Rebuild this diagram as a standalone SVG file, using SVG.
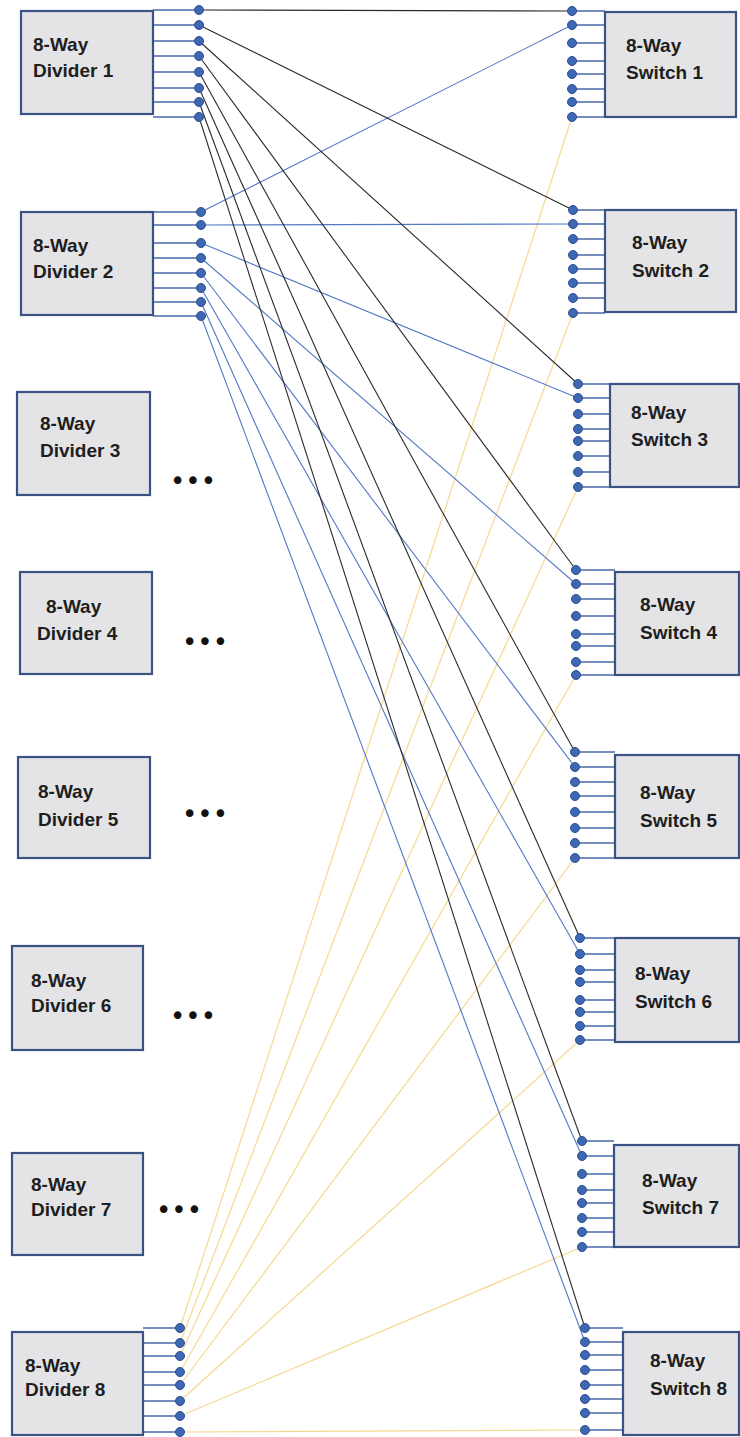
<svg xmlns="http://www.w3.org/2000/svg" width="740" height="1437" viewBox="0 0 740 1437">
<style>
.box{fill:#e4e4e6;stroke:#3b5384;stroke-width:2.2}
.lbl{font-family:"Liberation Sans",Arial,sans-serif;font-weight:bold;font-size:19px;fill:#1e1e1e}
.pin{stroke:#4a6aa8;stroke-width:1.3}
.dot{fill:#3f68b3;stroke:#2c4f94;stroke-width:1}
.k{stroke:#2a2a2a;stroke-width:1.1;fill:none}
.b{stroke:#5278c4;stroke-width:1.1;fill:none}
.y{stroke:#f4d98f;stroke-width:1.2;fill:none}
.ell{font-family:"DejaVu Sans",sans-serif;font-size:26px;fill:#111}
</style>
<rect width="740" height="1437" fill="#ffffff"/>
<g id="connectors">
<line class="y" x1="180" y1="1328" x2="572" y2="117"/>
<line class="y" x1="180" y1="1343" x2="573" y2="313"/>
<line class="y" x1="180" y1="1356" x2="578" y2="487"/>
<line class="y" x1="180" y1="1372" x2="576" y2="675"/>
<line class="y" x1="180" y1="1385" x2="575" y2="858"/>
<line class="y" x1="180" y1="1401" x2="580" y2="1040"/>
<line class="y" x1="180" y1="1416" x2="582" y2="1247"/>
<line class="y" x1="180" y1="1432" x2="585" y2="1430"/>
<line class="b" x1="201" y1="212" x2="572" y2="25"/>
<line class="b" x1="201" y1="225" x2="573" y2="224"/>
<line class="b" x1="201" y1="243" x2="578" y2="398"/>
<line class="b" x1="201" y1="258" x2="576" y2="584"/>
<line class="b" x1="201" y1="273" x2="575" y2="767"/>
<line class="b" x1="201" y1="288" x2="580" y2="954"/>
<line class="b" x1="201" y1="302" x2="582" y2="1156"/>
<line class="b" x1="201" y1="316" x2="585" y2="1342"/>
<line class="k" x1="199" y1="10" x2="572" y2="11"/>
<line class="k" x1="199" y1="25" x2="573" y2="210"/>
<line class="k" x1="199" y1="41" x2="578" y2="384"/>
<line class="k" x1="199" y1="56" x2="576" y2="570"/>
<line class="k" x1="199" y1="72" x2="575" y2="752"/>
<line class="k" x1="199" y1="88" x2="580" y2="938"/>
<line class="k" x1="199" y1="102" x2="582" y2="1141"/>
<line class="k" x1="199" y1="117" x2="585" y2="1328"/>
</g>
<g id="divider1">
<path class="pin" d="M153 10H199M153 25H199M153 41H199M153 56H199M153 72H199M153 88H199M153 102H199M153 117H199"/>
<rect class="box" x="21" y="11" width="132" height="103"/>
<text class="lbl" x="33" y="51">8-Way</text><text class="lbl" x="33" y="77">Divider 1</text>
<g class="dot"><circle cx="199" cy="10" r="4.5"/><circle cx="199" cy="25" r="4.5"/><circle cx="199" cy="41" r="4.5"/><circle cx="199" cy="56" r="4.5"/><circle cx="199" cy="72" r="4.5"/><circle cx="199" cy="88" r="4.5"/><circle cx="199" cy="102" r="4.5"/><circle cx="199" cy="117" r="4.5"/></g>
</g>
<g id="divider2">
<path class="pin" d="M153 212H201M153 225H201M153 243H201M153 258H201M153 273H201M153 288H201M153 302H201M153 316H201"/>
<rect class="box" x="21" y="212" width="132" height="103"/>
<text class="lbl" x="33" y="252">8-Way</text><text class="lbl" x="33" y="278">Divider 2</text>
<g class="dot"><circle cx="201" cy="212" r="4.5"/><circle cx="201" cy="225" r="4.5"/><circle cx="201" cy="243" r="4.5"/><circle cx="201" cy="258" r="4.5"/><circle cx="201" cy="273" r="4.5"/><circle cx="201" cy="288" r="4.5"/><circle cx="201" cy="302" r="4.5"/><circle cx="201" cy="316" r="4.5"/></g>
</g>
<g id="divider3">
<rect class="box" x="17" y="392" width="133" height="103"/>
<text class="lbl" x="40" y="430">8-Way</text><text class="lbl" x="40" y="457">Divider 3</text>
<text class="ell" x="170" y="490">•••</text>
</g>
<g id="divider4">
<rect class="box" x="20" y="572" width="132" height="102"/>
<text class="lbl" x="46" y="613">8-Way</text><text class="lbl" x="37" y="640">Divider 4</text>
<text class="ell" x="182" y="651">•••</text>
</g>
<g id="divider5">
<rect class="box" x="18" y="757" width="132" height="101"/>
<text class="lbl" x="38" y="798">8-Way</text><text class="lbl" x="38" y="826">Divider 5</text>
<text class="ell" x="182" y="823">•••</text>
</g>
<g id="divider6">
<rect class="box" x="12" y="946" width="131" height="104"/>
<text class="lbl" x="31" y="987">8-Way</text><text class="lbl" x="31" y="1012">Divider 6</text>
<text class="ell" x="170" y="1025">•••</text>
</g>
<g id="divider7">
<rect class="box" x="12" y="1153" width="131" height="102"/>
<text class="lbl" x="31" y="1191">8-Way</text><text class="lbl" x="31" y="1216">Divider 7</text>
<text class="ell" x="156" y="1219">•••</text>
</g>
<g id="divider8">
<path class="pin" d="M143 1328H180M143 1343H180M143 1356H180M143 1372H180M143 1385H180M143 1401H180M143 1416H180M143 1432H180"/>
<rect class="box" x="12" y="1332" width="131" height="103"/>
<text class="lbl" x="25" y="1372">8-Way</text><text class="lbl" x="25" y="1396">Divider 8</text>
<g class="dot"><circle cx="180" cy="1328" r="4.5"/><circle cx="180" cy="1343" r="4.5"/><circle cx="180" cy="1356" r="4.5"/><circle cx="180" cy="1372" r="4.5"/><circle cx="180" cy="1385" r="4.5"/><circle cx="180" cy="1401" r="4.5"/><circle cx="180" cy="1416" r="4.5"/><circle cx="180" cy="1432" r="4.5"/></g>
</g>
<g id="switch1">
<path class="pin" d="M572 11H605M572 25H605M572 43H605M572 61H605M572 74H605M572 89H605M572 102H605M572 117H605"/>
<rect class="box" x="605" y="12" width="131" height="105"/>
<text class="lbl" x="626" y="52">8-Way</text><text class="lbl" x="626" y="79">Switch 1</text>
<g class="dot"><circle cx="572" cy="11" r="4.5"/><circle cx="572" cy="25" r="4.5"/><circle cx="572" cy="43" r="4.5"/><circle cx="572" cy="61" r="4.5"/><circle cx="572" cy="74" r="4.5"/><circle cx="572" cy="89" r="4.5"/><circle cx="572" cy="102" r="4.5"/><circle cx="572" cy="117" r="4.5"/></g>
</g>
<g id="switch2">
<path class="pin" d="M573 210H605M573 224H605M573 239H605M573 255H605M573 269H605M573 283H605M573 298H605M573 313H605"/>
<rect class="box" x="605" y="210" width="131" height="102"/>
<text class="lbl" x="632" y="249">8-Way</text><text class="lbl" x="632" y="277">Switch 2</text>
<g class="dot"><circle cx="573" cy="210" r="4.5"/><circle cx="573" cy="224" r="4.5"/><circle cx="573" cy="239" r="4.5"/><circle cx="573" cy="255" r="4.5"/><circle cx="573" cy="269" r="4.5"/><circle cx="573" cy="283" r="4.5"/><circle cx="573" cy="298" r="4.5"/><circle cx="573" cy="313" r="4.5"/></g>
</g>
<g id="switch3">
<path class="pin" d="M578 384H610M578 398H610M578 414H610M578 429H610M578 441H610M578 456H610M578 472H610M578 487H610"/>
<rect class="box" x="610" y="384" width="129" height="103"/>
<text class="lbl" x="631" y="419">8-Way</text><text class="lbl" x="631" y="446">Switch 3</text>
<g class="dot"><circle cx="578" cy="384" r="4.5"/><circle cx="578" cy="398" r="4.5"/><circle cx="578" cy="414" r="4.5"/><circle cx="578" cy="429" r="4.5"/><circle cx="578" cy="441" r="4.5"/><circle cx="578" cy="456" r="4.5"/><circle cx="578" cy="472" r="4.5"/><circle cx="578" cy="487" r="4.5"/></g>
</g>
<g id="switch4">
<path class="pin" d="M576 570H615M576 584H615M576 599H615M576 616H615M576 634H615M576 646H615M576 662H615M576 675H615"/>
<rect class="box" x="615" y="572" width="124" height="103"/>
<text class="lbl" x="640" y="611">8-Way</text><text class="lbl" x="640" y="639">Switch 4</text>
<g class="dot"><circle cx="576" cy="570" r="4.5"/><circle cx="576" cy="584" r="4.5"/><circle cx="576" cy="599" r="4.5"/><circle cx="576" cy="616" r="4.5"/><circle cx="576" cy="634" r="4.5"/><circle cx="576" cy="646" r="4.5"/><circle cx="576" cy="662" r="4.5"/><circle cx="576" cy="675" r="4.5"/></g>
</g>
<g id="switch5">
<path class="pin" d="M575 752H615M575 767H615M575 782H615M575 796H615M575 812H615M575 828H615M575 843H615M575 858H615"/>
<rect class="box" x="615" y="755" width="124" height="103"/>
<text class="lbl" x="640" y="799">8-Way</text><text class="lbl" x="640" y="827">Switch 5</text>
<g class="dot"><circle cx="575" cy="752" r="4.5"/><circle cx="575" cy="767" r="4.5"/><circle cx="575" cy="782" r="4.5"/><circle cx="575" cy="796" r="4.5"/><circle cx="575" cy="812" r="4.5"/><circle cx="575" cy="828" r="4.5"/><circle cx="575" cy="843" r="4.5"/><circle cx="575" cy="858" r="4.5"/></g>
</g>
<g id="switch6">
<path class="pin" d="M580 938H615M580 954H615M580 970H615M580 982H615M580 1000H615M580 1012H615M580 1026H615M580 1040H615"/>
<rect class="box" x="615" y="938" width="124" height="104"/>
<text class="lbl" x="635" y="980">8-Way</text><text class="lbl" x="635" y="1008">Switch 6</text>
<g class="dot"><circle cx="580" cy="938" r="4.5"/><circle cx="580" cy="954" r="4.5"/><circle cx="580" cy="970" r="4.5"/><circle cx="580" cy="982" r="4.5"/><circle cx="580" cy="1000" r="4.5"/><circle cx="580" cy="1012" r="4.5"/><circle cx="580" cy="1026" r="4.5"/><circle cx="580" cy="1040" r="4.5"/></g>
</g>
<g id="switch7">
<path class="pin" d="M582 1141H614M582 1156H614M582 1174H614M582 1190H614M582 1203H614M582 1218H614M582 1232H614M582 1247H614"/>
<rect class="box" x="614" y="1145" width="125" height="102"/>
<text class="lbl" x="642" y="1187">8-Way</text><text class="lbl" x="642" y="1214">Switch 7</text>
<g class="dot"><circle cx="582" cy="1141" r="4.5"/><circle cx="582" cy="1156" r="4.5"/><circle cx="582" cy="1174" r="4.5"/><circle cx="582" cy="1190" r="4.5"/><circle cx="582" cy="1203" r="4.5"/><circle cx="582" cy="1218" r="4.5"/><circle cx="582" cy="1232" r="4.5"/><circle cx="582" cy="1247" r="4.5"/></g>
</g>
<g id="switch8">
<path class="pin" d="M585 1328H623M585 1342H623M585 1355H623M585 1370H623M585 1385H623M585 1399H623M585 1413H623M585 1430H623"/>
<rect class="box" x="623" y="1332" width="116" height="103"/>
<text class="lbl" x="650" y="1367">8-Way</text><text class="lbl" x="650" y="1395">Switch 8</text>
<g class="dot"><circle cx="585" cy="1328" r="4.5"/><circle cx="585" cy="1342" r="4.5"/><circle cx="585" cy="1355" r="4.5"/><circle cx="585" cy="1370" r="4.5"/><circle cx="585" cy="1385" r="4.5"/><circle cx="585" cy="1399" r="4.5"/><circle cx="585" cy="1413" r="4.5"/><circle cx="585" cy="1430" r="4.5"/></g>
</g>
</svg>
